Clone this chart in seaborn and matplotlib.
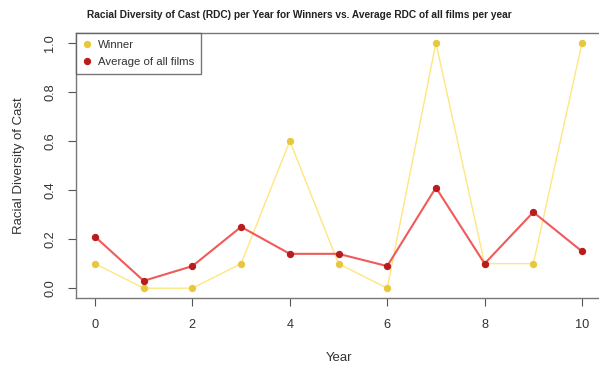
import matplotlib
matplotlib.use("Agg")
import matplotlib.pyplot as plt
import seaborn as sns
import pandas as pd

years = [0, 1, 2, 3, 4, 5, 6, 7, 8, 9, 10]
winner_rdc = [0.10, 0.00, 0.00, 0.10, 0.60, 0.10, 0.00, 1.00, 0.10, 0.10, 1.00]
average_rdc = [0.21, 0.03, 0.09, 0.25, 0.14, 0.14, 0.09, 0.41, 0.10, 0.31, 0.15]
series_names = ["Winner", "Average of all films"]
x_ticks = [0, 2, 4, 6, 8, 10]
y_ticks = [0.0, 0.2, 0.4, 0.6, 0.8, 1.0]

sns.set_style("white")
plt.rcParams["font.family"] = ["Liberation Sans", "DejaVu Sans"]

df = pd.DataFrame({
    "Year": years * 2,
    "RDC": winner_rdc + average_rdc,
    "Series": [series_names[0]] * len(years) + [series_names[1]] * len(years),
})

W, H = 599, 368
fig = plt.figure(figsize=(W / 100, H / 100), dpi=100)
left, right, top, bottom = 75.5, 601.5, 33, 298
ax = fig.add_axes([left / W, 1 - bottom / H, (right - left) / W, (bottom - top) / H])

line_colors = {series_names[0]: "#ffe680", series_names[1]: "#f05a5a"}
marker_colors = {series_names[0]: "#e8c83a", series_names[1]: "#b81c1c"}
widths = {series_names[0]: 1.0, series_names[1]: 1.5}

for name in series_names:
    sub = df[df["Series"] == name]
    sns.lineplot(data=sub, x="Year", y="RDC", ax=ax, color=line_colors[name],
                 linewidth=widths[name], marker="o", markersize=4.5,
                 markerfacecolor=marker_colors[name], markeredgecolor=marker_colors[name],
                 label=name, estimator=None, sort=False)

ax.set_xlim(-0.4, 10.4)
ax.set_ylim(-0.04, 1.04)
ax.set_xticks(x_ticks)
ax.set_xticklabels([str(t) for t in x_ticks])
ax.set_yticks(y_ticks)
ax.set_yticklabels([f"{t:.1f}" for t in y_ticks], rotation=90, va="center")
ax.tick_params(axis="both", direction="out", length=6, width=0.8, color="#555555",
               labelsize=9.2, labelcolor="#333333", bottom=True, left=True)
ax.tick_params(axis="x", pad=9)
ax.tick_params(axis="y", pad=8)
for s in ax.spines.values():
    s.set_color("#777777")
    s.set_linewidth(1.0)

ax.set_xlabel("Year", fontsize=9.5, color="#333333", labelpad=15)
ax.set_ylabel("Racial Diversity of Cast", fontsize=9.5, color="#333333", labelpad=14)

fig.text(0.5, 1 - 15 / H, "Racial Diversity of Cast (RDC) per Year for Winners vs. Average RDC of all films per year",
         ha="center", va="center", fontsize=7.3, fontweight="bold", color="#222222")

leg = ax.legend(loc="upper left", bbox_to_anchor=(0, 1), borderaxespad=0, frameon=True,
                fontsize=8.2, fancybox=False, handlelength=0.7, handletextpad=0.6,
                borderpad=0.65, labelspacing=0.55)
leg.get_frame().set_edgecolor("#555555")
leg.get_frame().set_linewidth(1.0)
for h in leg.legend_handles:
    h.set_linestyle("none")
for t in leg.get_texts():
    t.set_color("#333333")

fig.savefig("out.png", dpi=100)
